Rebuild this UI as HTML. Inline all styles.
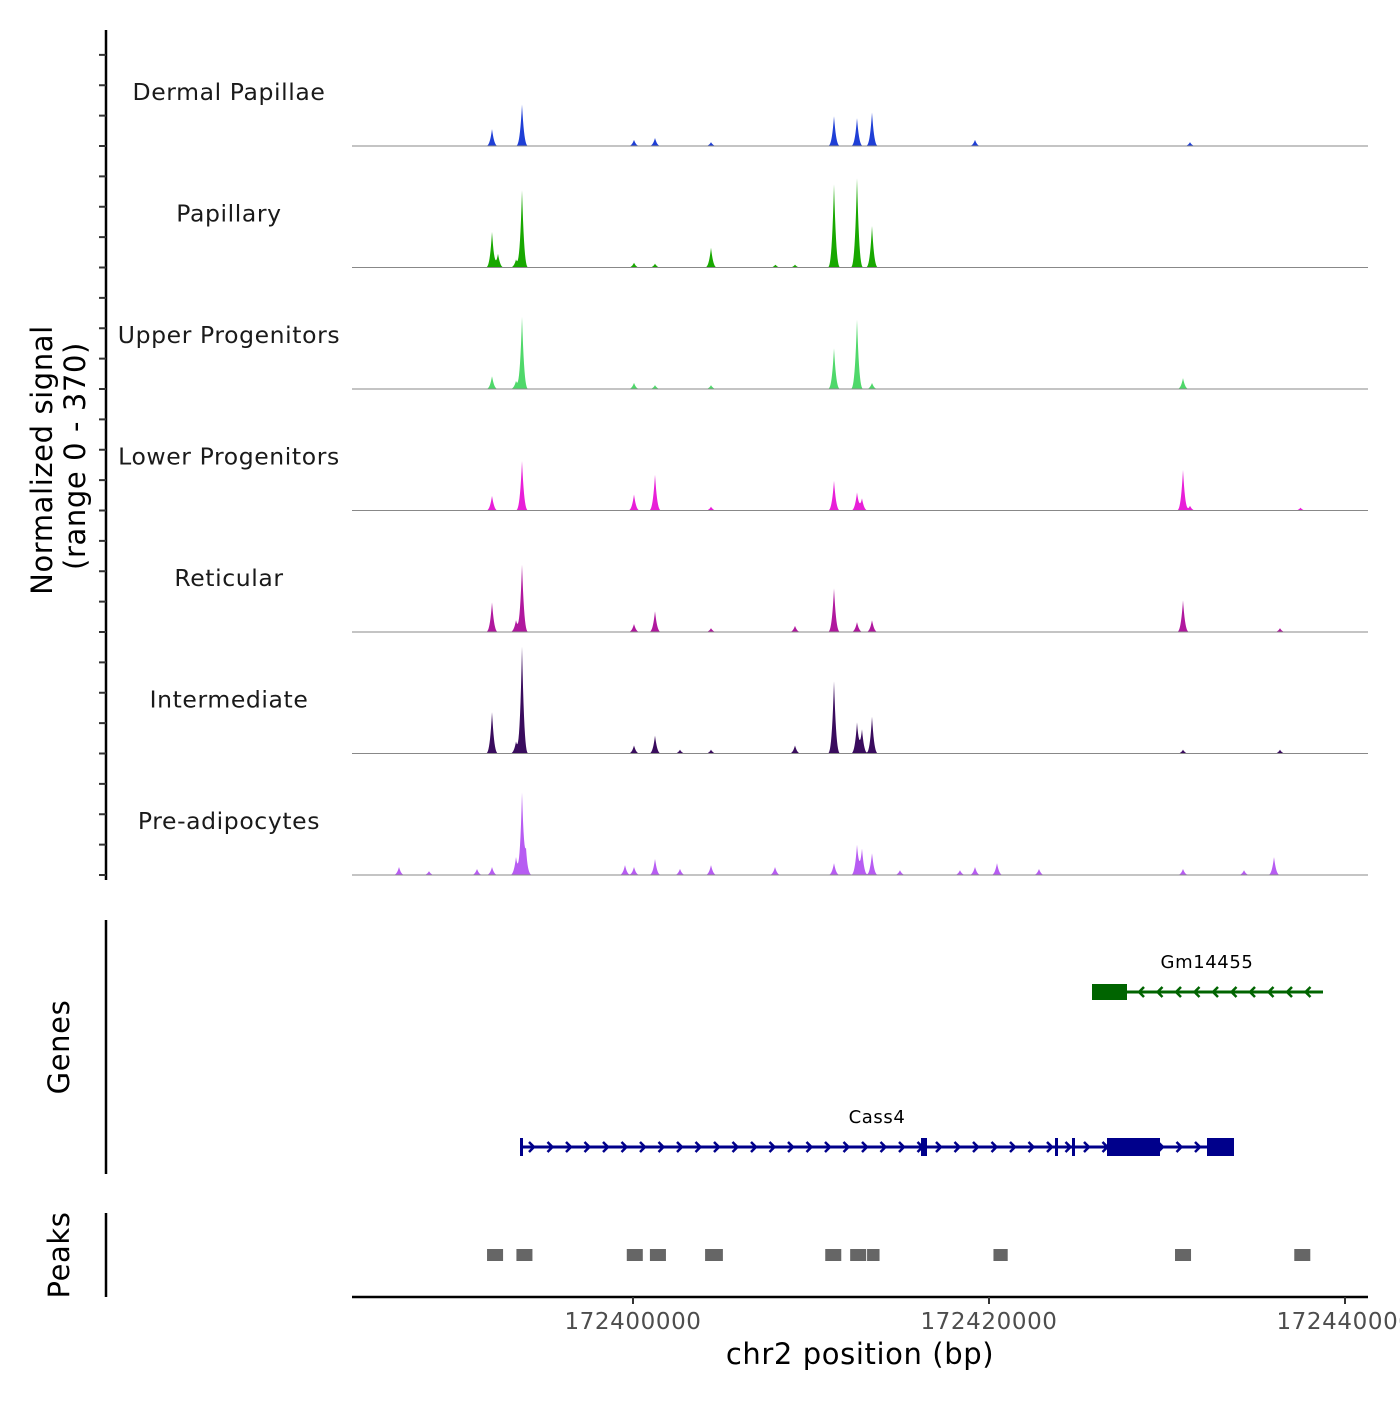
<!DOCTYPE html>
<html><head><meta charset="utf-8"><style>
body{margin:0;background:#fff}
svg text{font-family:"DejaVu Sans","Liberation Sans",sans-serif}
</style></head><body>
<svg id="c" width="1400" height="1400" viewBox="0 0 1400 1400" xmlns="http://www.w3.org/2000/svg"></svg>
<script>
const trackNames=["Dermal Papillae","Papillary","Upper Progenitors","Lower Progenitors","Reticular","Intermediate","Pre-adipocytes"];
const trackColors=["#1f3fd6","#18a800","#4fd86a","#e81fd8","#b0189e","#3a0c5e","#b75cf2"];
// peak centers (pixel-derived bp) and heights (signal units, range 0-370)
const dpPos=[172392079,172393764,172400056,172401236,172404382,172411292,172412584,172413427,172419213,172431292];
const dpVal=[53,130,19,25,12,93,87,105,19,12];
const paPos=[172392079,172392416,172393427,172393764,172400056,172401236,172404382,172408000,172409101,172411292,172412584,172413427];
const paVal=[112,43,25,242,15,12,62,9,9,260,279,130];
const upPos=[172392079,172393427,172393764,172400056,172401236,172404382,172411292,172412584,172413427,172430899];
const upVal=[40,25,226,19,12,12,127,217,19,34];
const loPos=[172392079,172393764,172400056,172401236,172404382,172411292,172412584,172412865,172430899,172431292,172437500];
const loVal=[46,155,50,112,12,93,56,37,127,15,9];
const rePos=[172392079,172393427,172393764,172400056,172401236,172404382,172409101,172411292,172412584,172413427,172430899,172436348];
const reVal=[93,37,211,25,65,12,19,136,31,37,99,12];
const inPos=[172392079,172393427,172393764,172400056,172401236,172402640,172404382,172409101,172411292,172412584,172412865,172413427,172430899,172436348];
const inVal=[130,37,335,25,56,12,12,25,226,96,74,115,12,12];
const prPos=[172386854,172388539,172391236,172392079,172393427,172393764,172393989,172399550,172400056,172401236,172402640,172404382,172407978,172411292,172412584,172412865,172413427,172414999,172418370,172419213,172420449,172422808,172430899,172434326,172436011];
const prVal=[25,12,19,25,56,254,68,31,25,50,19,31,25,37,93,81,68,15,15,25,37,19,19,15,56];
const trackPos=[dpPos,paPos,upPos,loPos,rePos,inPos,prPos];
const trackVal=[dpVal,paVal,upVal,loVal,reVal,inVal,prVal];
const xTicks=[172400000,172420000,172440000];
const xTickLabels=["172400000","172420000","172440000"];
const peakStarts=[172391800,172393450,172399650,172400950,172404050,172410800,172412200,172413150,172420250,172430450,172437150];
const peakEnds=[172392700,172394350,172400550,172401850,172405050,172411700,172413100,172413850,172421050,172431350,172438050];

const svg=document.getElementById('c');
const NS="http://www.w3.org/2000/svg";
const X0=352,X1=1368,BP0=172384213,BP1=172441292;
function xs(bp){return X0+(bp-BP0)/(BP1-BP0)*(X1-X0);}
const base0=146,trackH=121.5,yPer=0.32;
function ys(t,v){return base0+t*trackH-v*yPer;}
function mk(tag,attrs,parent){const e=document.createElementNS(NS,tag);for(const k in attrs)e.setAttribute(k,attrs[k]);(parent||svg).appendChild(e);return e;}

for(let t=0;t<7;t++){
  const g=mk('g',{});
  
  
  const lab=mk('text',{x:229,y:base0+t*trackH-46,'text-anchor':'middle','font-size':23.5,fill:'#1a1a1a','letter-spacing':'0.6'},g);
  lab.textContent=trackNames[t];
  
  
  const pos=trackPos[t],val=trackVal[t];
  let d='M'+X0+','+ys(t,0);
  for(let px=X0;px<=X1;px+=0.5){
    const bp=BP0+(px-X0)/(X1-X0)*(BP1-BP0);
    let v=0;
    for(let i=0;i<pos.length;i++){const dd=Math.abs(bp-pos[i]);const hw=380;if(dd<hw){const s=val[i]*Math.pow(1-dd/hw,3);v+=s;}}
    d+=' L'+px+','+ys(t,v).toFixed(2);
  }
  d+=' L'+X1+','+ys(t,0)+' Z';
  const a=mk('path',{d:d,fill:trackColors[t]},g);
  
  
  const bl=mk('line',{x1:X0,x2:X1,y1:ys(t,0),y2:ys(t,0),stroke:'#888','stroke-width':1},g);
  
  
}
// left axis
const ya=mk('line',{x1:106,x2:106,y1:30,y2:880,stroke:'#000','stroke-width':2.5});


for(let k=0;k<=28;k++){const y=875-k*trackH/4;if(y<40)break;const tk=mk('line',{x1:99,x2:106,y1:y,y2:y,stroke:'#333','stroke-width':2});

}
const yt=mk('text',{transform:'translate(52,460) rotate(-90)','text-anchor':'middle','font-size':29,fill:'#000','letter-spacing':'0.6'});
yt.textContent='Normalized signal';


const yt2=mk('text',{transform:'translate(85,456) rotate(-90)','text-anchor':'middle','font-size':29,fill:'#000','letter-spacing':'0.6'});
yt2.textContent='(range 0 - 370)';


// genes
const ga=mk('line',{x1:106,x2:106,y1:920,y2:1174,stroke:'#000','stroke-width':2.5});


const gt=mk('text',{transform:'translate(69,1047) rotate(-90)','text-anchor':'middle','font-size':29,fill:'#000','letter-spacing':'0.6'});
gt.textContent='Genes';


function gene(name,x1,x2,y,col,exons,dir,lx,ly){
  const g=mk('g',{});
  
  
  mk('line',{x1:x1,x2:x2,y1:y,y2:y,stroke:col,'stroke-width':3},g);
  for(let x=x1+12;x<x2-4;x+=18.5){const p=dir>0?`M${x-3},${y-5} L${x+2},${y} L${x-3},${y+5}`:`M${x+3},${y-5} L${x-2},${y} L${x+3},${y+5}`;mk('path',{d:p,stroke:col,'stroke-width':2.5,fill:'none'},g);}
  exons.forEach(e=>mk('rect',{x:e[0],y:y-e[2]/2,width:e[1]-e[0],height:e[2],fill:col},g));
  const t=mk('text',{x:lx,y:ly,'text-anchor':'middle','font-size':18,fill:'#000','letter-spacing':'0.6'},g);t.textContent=name;
}
gene('Gm14455',1092,1323,992,'#006400',[[1092,1127,16]],-1,1207,968);
gene('Cass4',520,1234,1147,'#00008b',[[520,523,18],[921,927,18],[1055,1058,18],[1072,1075,18],[1107,1160,18],[1207,1234,18]],1,877,1123);
// peaks
const pa=mk('line',{x1:106,x2:106,y1:1213,y2:1297,stroke:'#000','stroke-width':2.5});


const pt=mk('text',{transform:'translate(69,1255) rotate(-90)','text-anchor':'middle','font-size':29,fill:'#000','letter-spacing':'0.6'});
pt.textContent='Peaks';


for(let i=0;i<peakStarts.length;i++){const r=mk('rect',{x:xs(peakStarts[i]),y:1249,width:xs(peakEnds[i])-xs(peakStarts[i]),height:12,fill:'#666'});

}
// x axis
const xa=mk('line',{x1:X0,x2:X1,y1:1297,y2:1297,stroke:'#000','stroke-width':2.5});


xTicks.forEach((b,i)=>{const x=xs(b);const tk=mk('line',{x1:x,x2:x,y1:1297,y2:1304,stroke:'#333','stroke-width':2});


const tl=mk('text',{x:x,y:1329,'text-anchor':'middle','font-size':23,fill:'#4d4d4d','letter-spacing':'0.6'});tl.textContent=xTickLabels[i];

});
const xt=mk('text',{x:860,y:1364,'text-anchor':'middle','font-size':29,fill:'#000','letter-spacing':'0.6'});
xt.textContent='chr2 position (bp)';


</script>
</body></html>
